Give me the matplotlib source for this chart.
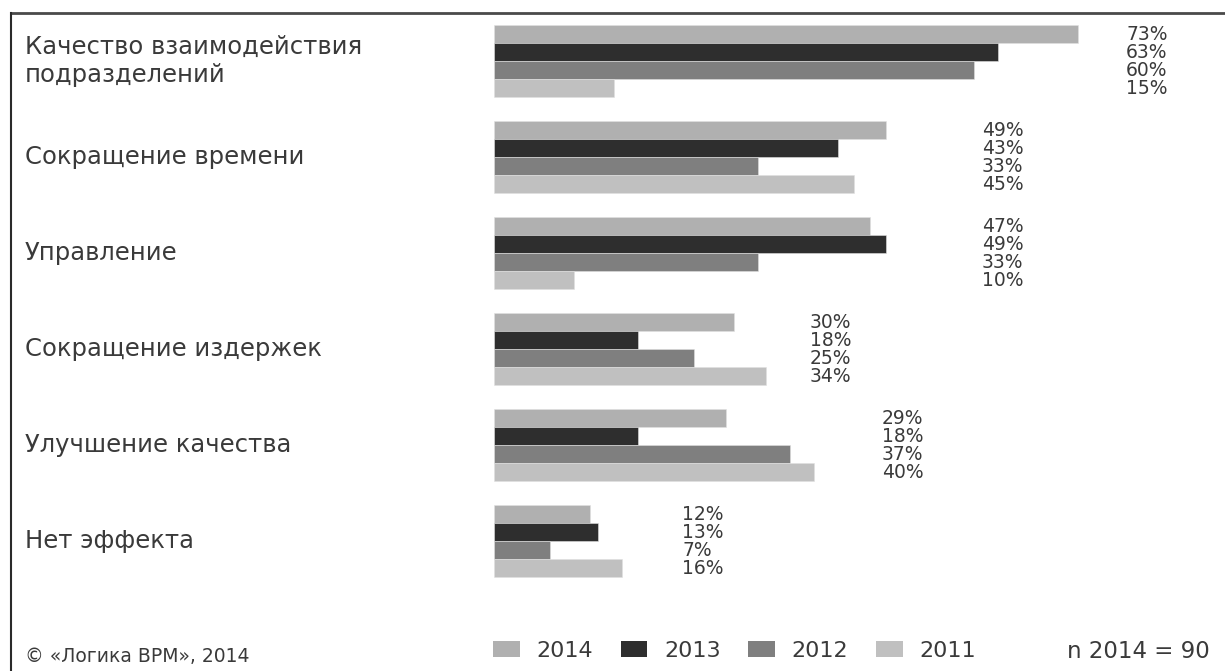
import matplotlib
matplotlib.use("Agg")
import matplotlib.pyplot as plt
from matplotlib.patches import Patch
from matplotlib.lines import Line2D
from matplotlib.transforms import blended_transform_factory

# ---- data ----
categories = ["Качество взаимодействия\nподразделений", "Сокращение времени", "Управление",
              "Сокращение издержек", "Улучшение качества", "Нет эффекта"]
years = ["2014", "2013", "2012", "2011"]
v2014 = [73, 49, 47, 30, 29, 12]
v2013 = [63, 43, 49, 18, 18, 13]
v2012 = [60, 33, 33, 25, 37, 7]
v2011 = [15, 45, 10, 34, 40, 16]
series = [v2014, v2013, v2012, v2011]

# ---- style ----
colors = ["#b0b0b0", "#2e2e2e", "#7f7f7f", "#c0c0c0"]
label_gap = [6, 12, 12, 5.5, 8.5, 7.5]  # gap (in %) between group's longest bar and its labels
text_color = "#3a3a3a"

W, H = 1225, 671
fig = plt.figure(figsize=(W / 100, H / 100), dpi=100)
x0 = 494
ax = fig.add_axes([x0 / W, 0, 1 - x0 / W, 1])
ax.set_xlim(0, (W - x0) / 8)
pitch, c0 = 96, 61
ax.set_ylim((H - c0) / pitch, -c0 / pitch)
ax.axis("off")
bar_h = 18 / pitch

for i, cat in enumerate(categories):
    vals = [s[i] for s in series]
    for j, v in enumerate(vals):
        y = i + (j - 1.5) * bar_h
        ax.barh(y, v, height=bar_h, color=colors[j], edgecolor="#e0e0e0", linewidth=0.4)
        ax.text(max(vals) + label_gap[i], y, f"{v}%", ha="left", va="center",
                fontsize=13.5, color=text_color)

trans = blended_transform_factory(fig.transFigure, ax.transData)
for i, cat in enumerate(categories):
    ax.text(25 / W, i, cat, transform=trans, ha="left", va="center",
            fontsize=17.5, color=text_color, linespacing=1.25)

# legend
handles = [Patch(facecolor=c, edgecolor="none") for c in colors]
fig.legend(handles, years, ncol=4, loc="center left",
           bbox_to_anchor=(493 / W, 1 - 651 / H), frameon=False, borderpad=0,
           borderaxespad=0, handlelength=1.2, handleheight=0.75, handletextpad=0.75,
           columnspacing=1.25, prop={"size": 16}, labelcolor=text_color)

fig.text(1210 / W, 1 - 651 / H, "n 2014 = 90", ha="right", va="center",
         fontsize=16.5, color=text_color)
fig.text(25 / W, 1 - 657 / H, "© «Логика BPM», 2014", ha="left", va="center",
         fontsize=13.5, color=text_color)

# partial frame (top and left edges)
fig.add_artist(Line2D([11 / W, 1], [1 - 13 / H, 1 - 13 / H], transform=fig.transFigure,
                      color="#4a4a4a", linewidth=2))
fig.add_artist(Line2D([11 / W, 11 / W], [1 - 13 / H, 0], transform=fig.transFigure,
                      color="#2a2a2a", linewidth=1.5))

fig.savefig("out.png", dpi=100, facecolor="white")
